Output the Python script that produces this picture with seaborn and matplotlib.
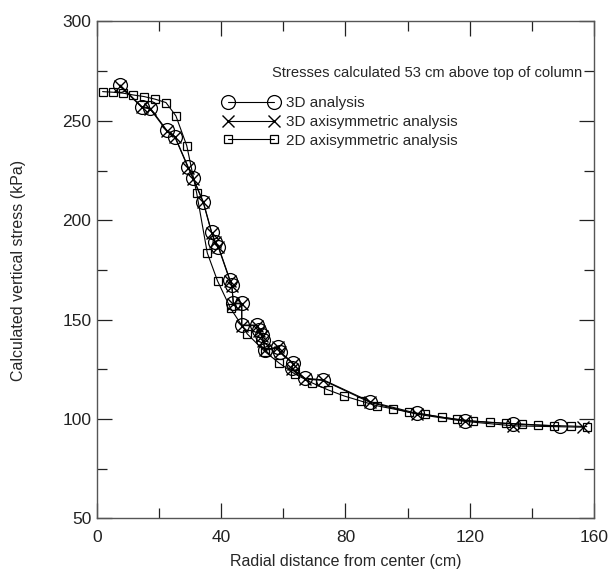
import numpy as np
import pandas as pd
import matplotlib
matplotlib.use('Agg')
import matplotlib.pyplot as plt
import seaborn as sns

# dados
x_3d = [7.4, 14.4, 17.1, 22.4, 25.1, 29.4, 31.0, 34.2, 36.9, 38.0, 39.1, 42.8, 43.4, 43.9,
        46.6, 46.6, 51.4, 52.3, 53.0, 53.5, 54.1, 58.4, 58.9, 63.2, 62.7, 67.0, 72.9,
        87.9, 102.9, 118.5, 134.0, 149.1]
y_3d = [268.1, 257.1, 256.5, 245.4, 242.1, 226.6, 221.1, 209.4, 194.1, 189.3, 186.7, 170.0,
        167.5, 158.3, 158.3, 147.3, 147.3, 144.8, 142.3, 139.8, 134.8, 136.4, 133.9, 128.1,
        125.6, 120.5, 119.7, 108.8, 102.9, 99.2, 97.5, 96.5]

x_axi = [7.4, 14.4, 17.1, 22.4, 25.1, 29.4, 31.0, 34.2, 36.9, 38.0, 39.1, 42.8, 43.4, 43.9,
         46.6, 46.6, 51.4, 52.3, 53.0, 53.5, 54.1, 58.4, 58.9, 63.2, 62.7, 67.0, 72.9,
         87.9, 102.9, 118.5, 134.0, 156.6]
y_axi = [267.6, 256.8, 256.0, 245.0, 241.8, 226.2, 220.8, 209.0, 193.7, 189.0, 186.3, 169.6,
         167.1, 158.0, 158.0, 147.0, 147.0, 144.5, 142.0, 139.5, 134.5, 136.0, 133.6, 127.8,
         125.3, 120.2, 119.4, 108.4, 102.5, 98.8, 96.6, 95.9]

x_2d = [1.8, 5.1, 8.5, 11.7, 15.2, 18.7, 22.2, 25.4, 28.9, 32.1, 35.5, 38.8, 43.0, 48.4,
        54.1, 58.7, 63.7, 69.1, 74.5, 79.6, 84.9, 90.1, 95.4, 100.5, 105.7, 111.0, 116.0,
        121.2, 126.5, 131.7, 136.8, 142.1, 147.1, 152.5, 157.7]
y_2d = [264.7, 264.4, 263.9, 263.0, 262.2, 260.9, 259.2, 252.5, 237.5, 213.6, 183.6, 169.5,
        155.7, 142.8, 133.9, 128.1, 122.7, 118.3, 114.6, 111.6, 109.1, 106.7, 105.1, 103.4,
        102.4, 100.9, 99.9, 99.0, 98.4, 97.9, 97.5, 97.0, 96.7, 96.5, 96.2]

nomes = ['3D analysis', '3D axisymmetric analysis', '2D axisymmetric analysis']

sns.set_style('ticks')
plt.rcParams['font.family'] = ['Liberation Sans', 'DejaVu Sans']

fig = plt.figure(figsize=(6.12, 5.7), dpi=100)
ax = fig.add_axes([0.1585, 0.0904, 0.812, 0.872])

estilo = dict(color='black', linewidth=0.8, markeredgecolor='black',
              markerfacecolor='none', estimator=None, sort=False, ax=ax)

sns.lineplot(x=x_3d, y=y_3d, marker='o', markersize=10, markeredgewidth=0.9,
             label=nomes[0], **estilo)
sns.lineplot(x=x_axi, y=y_axi, marker='x', markersize=8, markeredgewidth=1.0,
             label=nomes[1], **estilo)
sns.lineplot(x=x_2d, y=y_2d, marker='s', markersize=5.5, markeredgewidth=0.9,
             label=nomes[2], **estilo)

ax.set_xlim(0, 160)
ax.set_ylim(50, 300)
ax.set_xticks(np.arange(0, 161, 40))
ax.set_xticks(np.arange(20, 161, 40), minor=True)
ax.set_yticks(np.arange(50, 301, 50))
ax.set_yticks(np.arange(75, 300, 50), minor=True)
ax.tick_params(which='both', direction='in', top=True, right=True, labelsize=12.5,
               colors='#222222', width=0.9)
ax.tick_params(which='major', length=11)
ax.tick_params(which='minor', length=7)
ax.tick_params(axis='x', which='major', pad=8)
ax.tick_params(axis='y', which='major', pad=4)
for s in ax.spines.values():
    s.set_color('#555555')
    s.set_linewidth(1.0)

ax.set_xlabel('Radial distance from center (cm)', fontsize=11.5, labelpad=7)
ax.set_ylabel('Calculated vertical stress (kPa)', fontsize=11.5, labelpad=26)

ax.text(0.352, 0.896, 'Stresses calculated 53 cm above top of column', transform=ax.transAxes,
        fontsize=10.6, va='center', ha='left')
ax.legend(loc='upper left', bbox_to_anchor=(0.255, 0.85), frameon=False, fontsize=11,
          numpoints=2, handlelength=3.6, handletextpad=0.45, labelspacing=0.32,
          borderpad=0, borderaxespad=0)

plt.savefig('out.png', dpi=100)
